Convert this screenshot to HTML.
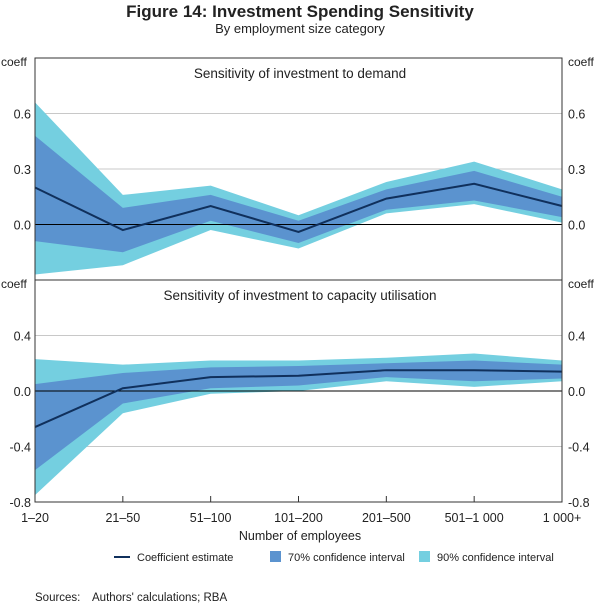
<!DOCTYPE html>
<html><head><meta charset="utf-8"><style>
body{margin:0;background:#fff;font-family:"Liberation Sans",Arial,sans-serif;}
svg text{font-family:"Liberation Sans",Arial,sans-serif;fill:#222;}
</style></head><body>
<svg id="chart" width="600" height="605"></svg>
<script>
const categories=["1–20","21–50","51–100","101–200","201–500","501–1 000","1 000+"];
const demandEst=[0.2,-0.03,0.1,-0.04,0.14,0.22,0.1];
const demandHi70=[0.48,0.09,0.16,0.02,0.19,0.29,0.15];
const demandLo70=[-0.09,-0.15,0.02,-0.1,0.08,0.13,0.04];
const demandHi90=[0.66,0.16,0.21,0.05,0.23,0.34,0.19];
const demandLo90=[-0.27,-0.22,-0.03,-0.13,0.06,0.11,0.01];
const capEst=[-0.26,0.02,0.1,0.11,0.15,0.15,0.14];
const capHi70=[0.05,0.13,0.17,0.18,0.2,0.22,0.19];
const capLo70=[-0.57,-0.09,0.02,0.04,0.1,0.07,0.09];
const capHi90=[0.23,0.19,0.22,0.22,0.24,0.27,0.22];
const capLo90=[-0.75,-0.16,-0.02,0.0,0.07,0.03,0.07];
const demandTicks=[0.6,0.3,0.0];
const capTicks=[0.4,0.0,-0.4,-0.8];

const NS="http://www.w3.org/2000/svg";
const svg=document.getElementById('chart');
function mk(tag,attrs,parent){const e=document.createElementNS(NS,tag);for(const k in attrs)e.setAttribute(k,attrs[k]);(parent||svg).appendChild(e);return e;}
function txt(s,x,y,size,anchor,weight){const t=mk('text',{x:x,y:y,'font-size':size,'text-anchor':anchor||'start'});if(weight)t.setAttribute('font-weight',weight);t.textContent=s;return t;}
const L=35,R=562;
const xs=i=>L+i*(R-L)/(categories.length-1);
const panels=[
 {top:58,bot:280,min:-0.3,max:0.9,ticks:demandTicks,fmt:v=>v.toFixed(1),title:"Sensitivity of investment to demand",est:demandEst,h7:demandHi70,l7:demandLo70,h9:demandHi90,l9:demandLo90,name:'demand'},
 {top:280,bot:502,min:-0.8,max:0.8,ticks:capTicks,fmt:v=>v.toFixed(1),title:"Sensitivity of investment to capacity utilisation",est:capEst,h7:capHi70,l7:capLo70,h9:capHi90,l9:capLo90,name:'capacity'}
];
let t=txt("Figure 14: Investment Spending Sensitivity",300,17,17,'middle','bold');

t=txt("By employment size category",300,33,13,'middle');

panels.forEach(p=>{
 const y=v=>p.bot-(v-p.min)/(p.max-p.min)*(p.bot-p.top);
 const g=mk('g',{});
 
 p.ticks.forEach(v=>{
  if(Math.abs(v)>1e-9&&v>p.min+1e-9){const gl=mk('line',{x1:L,x2:R,y1:y(v),y2:y(v),stroke:'#c8c8c8','stroke-width':1},g);
   }
  const s=p.fmt(v);
  let a=txt(s,L-4,y(v)+5,12.5,'end');
  let b=txt(s,R+6,y(v)+5,12.5,'start');
 });
 const band=(hi,lo,col,nm)=>{let d='';hi.forEach((v,i)=>d+=(i?'L':'M')+xs(i)+','+y(v));for(let i=lo.length-1;i>=0;i--)d+='L'+xs(i)+','+y(lo[i]);d+='Z';
  const e=mk('path',{d:d,fill:col},g);};
 band(p.h9,p.l9,'#74cfe0',p.name+'-ci-90');
 band(p.h7,p.l7,'#5b93cf',p.name+'-ci-70');
 const z=mk('line',{x1:L,x2:R,y1:y(0),y2:y(0),stroke:'#000','stroke-width':1},g);
 
 const pl=mk('polyline',{points:p.est.map((v,i)=>xs(i)+','+y(v)).join(' '),fill:'none',stroke:'#10305c','stroke-width':2},g);
 
 const fr=mk('rect',{x:L,y:p.top,width:R-L,height:p.bot-p.top,fill:'none',stroke:'#333','stroke-width':1},g);
 
 let tt=txt(p.title,300,p.top+20,13.5,'middle');
 let c1=txt('coeff',1,p.top+8,12,'start');
 let c2=txt('coeff',568,p.top+8,12,'start');
});
categories.forEach((c,i)=>{
 const tk=mk('line',{x1:xs(i),x2:xs(i),y1:496,y2:502,stroke:'#333'});
 
 const a=txt(c,xs(i),522,12.5,'middle');
});
t=txt("Number of employees",300,540,12.5,'middle');
const lg=mk('g',{});
let li=mk('line',{x1:114,x2:130,y1:557,y2:557,stroke:'#10305c','stroke-width':2},lg);
t=txt("Coefficient estimate",137,561,11,'start');
li=mk('rect',{x:270,y:551,width:11,height:11,fill:'#5b93cf'},lg);
t=txt("70% confidence interval",288,561,11,'start');
li=mk('rect',{x:419,y:551,width:11,height:11,fill:'#74cfe0'},lg);
t=txt("90% confidence interval",437,561,11,'start');
t=txt("Sources:",35,601,11.5,'start');
t=txt("Authors' calculations; RBA",92,601,11.5,'start');
</script>
</body></html>
